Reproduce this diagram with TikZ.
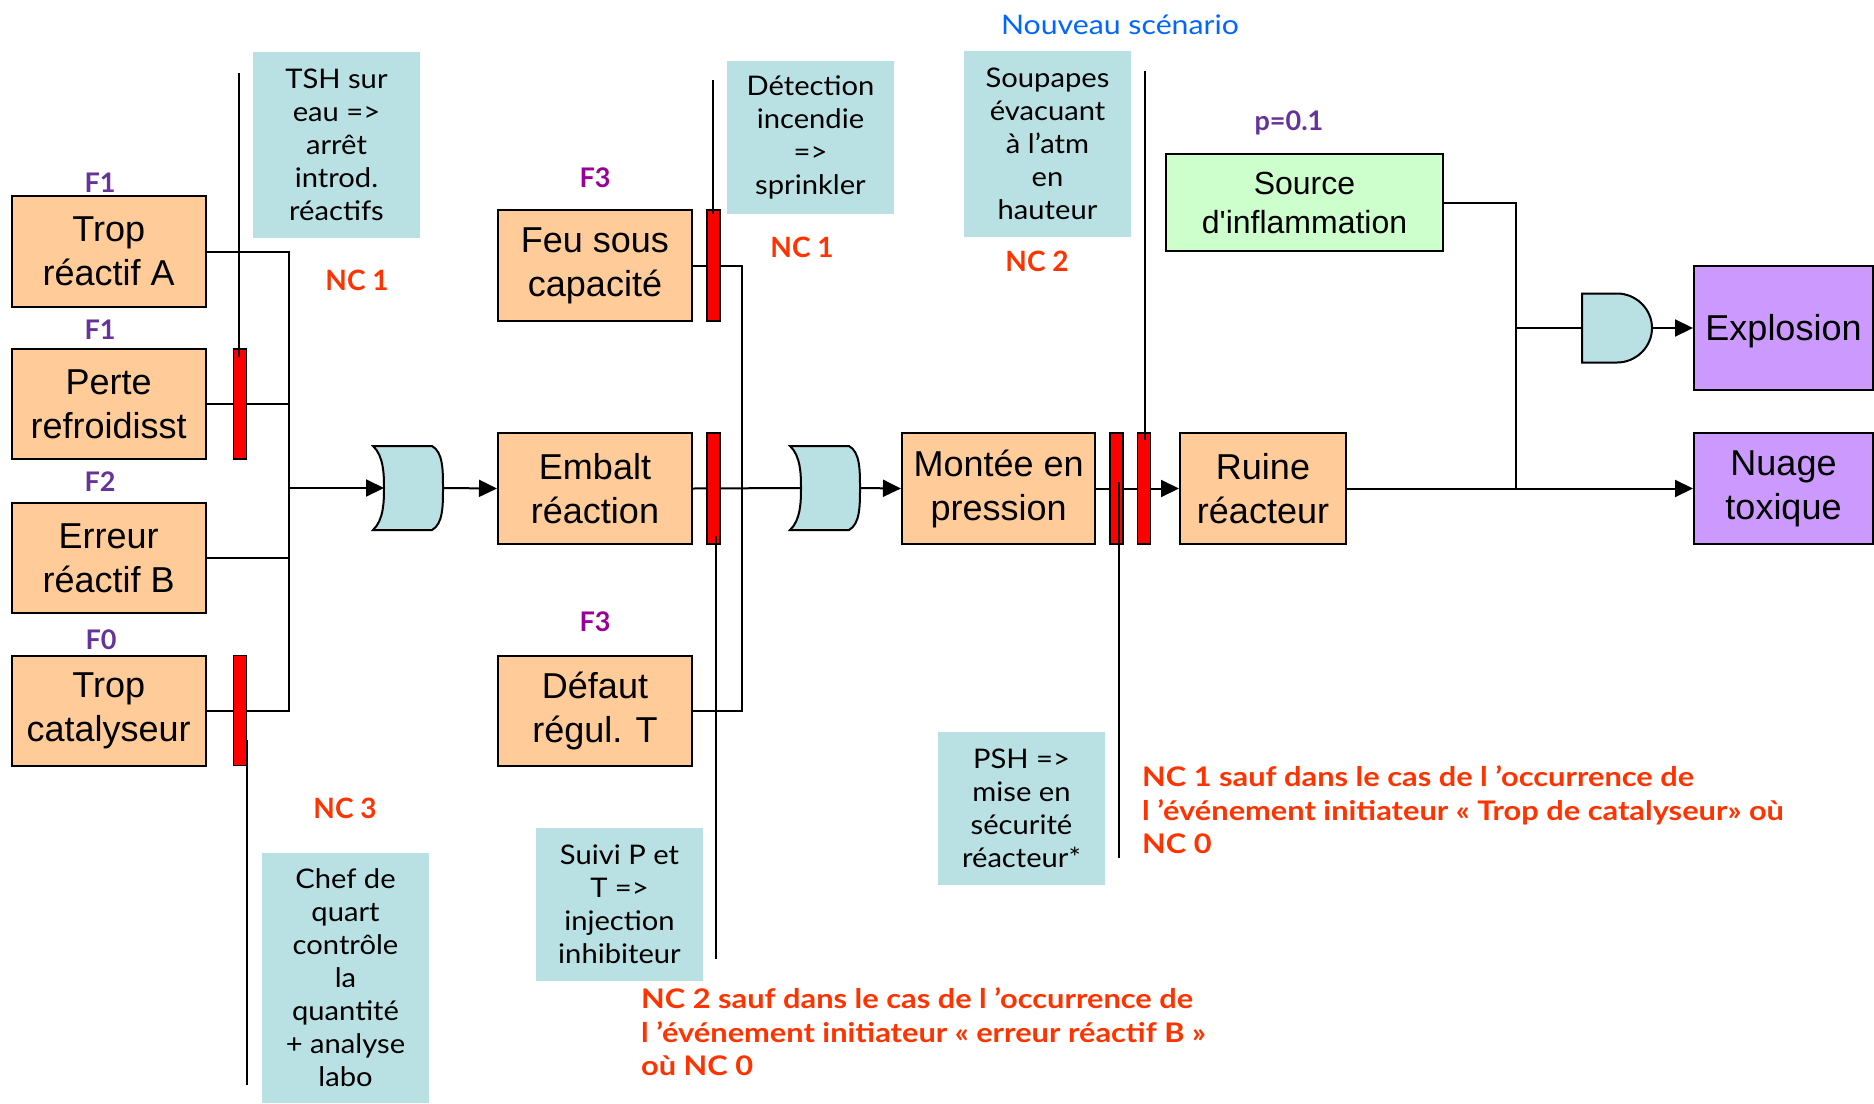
\documentclass[tikz,border=0pt]{standalone}
\usepackage{fontspec}
\setmainfont{Liberation Sans}
\newfontfamily\hfont{Lato}
\newfontfamily\hfontc{Lato}[FakeStretch=1.08]
\newfontfamily\hfontn{Lato}[FakeStretch=1.12]
\newfontfamily\hfontw{Lato}[FakeStretch=1.14]
\usetikzlibrary{arrows.meta}
\definecolor{boxor}{HTML}{FFCC99}
\definecolor{callblue}{HTML}{B9E0E3}
\definecolor{boxgreen}{HTML}{CCFFCC}
\definecolor{boxpurple}{HTML}{CC99FF}
\definecolor{ncred}{HTML}{FF3300}
\definecolor{fpurple}{HTML}{663399}
\definecolor{fmagenta}{HTML}{990099}
\definecolor{newblue}{HTML}{0066FF}
\newcommand{\lowtxt}[1]{\raisebox{-3pt}[\height][\depth]{#1}}
\begin{document}
\begin{tikzpicture}[x=1pt,y=-1pt,
  evt/.style={draw=black, line width=2pt, fill=boxor, inner sep=0pt, align=center, font=\fontsize{36}{44}\selectfont},
  ctext/.style={fill=callblue, inner sep=0pt, align=center, minimum width=167pt, font=\hfontc\fontsize{27}{33}\selectfont},
  barre/.style={draw=black, line width=1.5pt, fill=red, minimum width=13pt, minimum height=110pt, inner sep=0pt},
  lnk/.style={line width=2pt},
  arr/.style={lnk, -{Triangle[length=18pt,width=17pt]}},
  gate/.style={draw=black, line width=2pt, fill=callblue},
  flab/.style={font=\hfont\bfseries\fontsize{27}{30}\selectfont, text=fpurple},
  nclab/.style={font=\hfont\bfseries\fontsize{28}{30}\selectfont, text=ncred},
  ncnote/.style={font=\hfontw\bfseries\fontsize{27}{33.5}\selectfont, text=ncred, align=left, inner sep=0pt}
]
\useasboundingbox (0,0) rectangle (1874,1103);

% event boxes
\node[evt, minimum width=194pt, minimum height=111pt] (tA) at (108.7,251.5) {Trop\\réactif A};
\node[evt, minimum width=194pt, minimum height=110pt] (perte) at (108.7,404) {Perte\\refroidisst};
\node[evt, minimum width=194pt, minimum height=110pt] (erreur) at (108.7,558) {Erreur\\réactif B};
\node[evt, minimum width=194pt, minimum height=110pt] (cat) at (108.7,710.6) {Trop\\catalyseur};
\node[evt, minimum width=194pt, minimum height=111pt] (feu) at (595,265.5) {Feu sous\\capacité};
\node[evt, minimum width=194pt, minimum height=111pt] (embalt) at (595,488.5) {Embalt\\réaction};
\node[evt, minimum width=194pt, minimum height=110pt] (defaut) at (595,710.6) {Défaut\\régul. T};
\node[evt, minimum width=193.5pt, minimum height=111pt] (montee) at (998.7,488.5) {Montée en\\pression};
\node[evt, minimum width=166pt, minimum height=111pt] (ruine) at (1263,488.5) {Ruine\\réacteur};
\node[evt, fill=boxgreen, minimum width=277pt, minimum height=97pt, font=\fontsize{32}{39}\selectfont] (source) at (1304.5,202.5) {Source\\d\textquotesingle inflammation};
\node[evt, fill=boxpurple, minimum width=179pt, minimum height=124pt] (explosion) at (1783.5,328) {\lowtxt{Explosion}};
\node[evt, fill=boxpurple, minimum width=179pt, minimum height=111pt] (nuage) at (1783.5,488.5) {Nuage\\toxique};

% junction / gate coordinates
\coordinate (j1) at (289,488);
\coordinate (j2) at (742,488);
\coordinate (j3) at (1516,488);
\coordinate (g1in) at (384,488);
\coordinate (g1out) at (443,488);
\coordinate (g2in) at (801,488);
\coordinate (g2out) at (860,488);
\coordinate (andin) at (1582,328);
\coordinate (andout) at (1652,328);

% gates
\draw[gate] (373,446) -- (432,446) .. controls (443,452) and (443,470) .. (443,488)
  .. controls (443,506) and (443,524) .. (432,530) -- (373,530)
  .. controls (384,520) and (384,500) .. (384,488) .. controls (384,476) and (384,456) .. (373,446) -- cycle;
\draw[gate] (790,446) -- (849,446) .. controls (860,452) and (860,470) .. (860,488)
  .. controls (860,506) and (860,524) .. (849,530) -- (790,530)
  .. controls (801,520) and (801,500) .. (801,488) .. controls (801,476) and (801,456) .. (790,446) -- cycle;
\draw[gate] (1582,293.5) -- (1617,293.5) .. controls (1636,293.5) and (1652,309) .. (1652,328)
  .. controls (1652,347) and (1636,362.5) .. (1617,362.5) -- (1582,362.5) -- cycle;

% connectors
\draw[lnk] (tA.east) -| (j1 |- cat.east) -- (cat.east);
\draw[lnk] (perte.east) -- (perte.east -| j1);
\draw[lnk] (erreur.east) -- (erreur.east -| j1);
\draw[arr] (j1) -- (g1in);
\draw[arr] (g1out) -- (embalt.west);
\draw[lnk] (feu.east) -| (j2 |- defaut.east) -- (defaut.east);
\draw[lnk] (embalt.east) -- (g2in);
\draw[arr] (g2out) -- (montee.west);
\draw[arr] (montee.east) -- (ruine.west);
\draw[arr] (ruine.east) -- (nuage.west);
\draw[lnk] (source.east) -| (j3);
\draw[lnk] (j3 |- andin) -- (andin);
\draw[arr] (andout) -- (explosion.west);

% red barriers
\node[barre] (b1) at (240,404) {};
\node[barre] (b2) at (240,710.6) {};
\node[barre, minimum height=111pt] (b3) at (713.5,265.5) {};
\node[barre, minimum height=111pt] (b4) at (713.5,488.5) {};
\node[barre, minimum height=111pt] (b5) at (1116.5,488.5) {};
\node[barre, minimum height=111pt] (b6) at (1144,488.5) {};

% barrier leader lines
\coordinate (l1a) at (239,73);   \coordinate (l1b) at (239,357);
\coordinate (l2a) at (247,740);  \coordinate (l2b) at (247,1085);
\coordinate (l3a) at (713,80);   \coordinate (l3b) at (713,214);
\coordinate (l4a) at (716,536);  \coordinate (l4b) at (716,959);
\coordinate (l5a) at (1119,482); \coordinate (l5b) at (1119,858);
\coordinate (l6a) at (1144.5,71);\coordinate (l6b) at (1144.5,440);
\draw[lnk] (l1a) -- (l1b);
\draw[lnk] (l2a) -- (l2b);
\draw[lnk] (l3a) -- (l3b);
\draw[lnk] (l4a) -- (l4b);
\draw[lnk] (l5a) -- (l5b);
\draw[lnk] (l6a) -- (l6b);

% callouts
\node[ctext, minimum height=186pt] (tsh) at (336.5,145) {TSH sur\\eau =>\\arrêt\\introd.\\réactifs};
\node[ctext, minimum height=153pt] (det) at (810.5,137.5) {Détection\\incendie\\=>\\sprinkler};
\node[ctext, minimum height=186pt] (soup) at (1047.5,144) {Soupapes\\évacuant\\à l’atm\\en\\hauteur};
\node[ctext, minimum height=153pt] (psh) at (1021.5,808.5) {PSH =>\\mise en\\sécurité\\réacteur*};
\node[ctext, minimum height=153pt] (suivi) at (619.5,904.5) {Suivi P et\\T =>\\injection\\inhibiteur};
\node[ctext, minimum height=250pt] (chef) at (345.5,978) {Chef de\\quart\\contrôle\\la\\quantité\\+ analyse\\labo};

% frequency labels
\node[flab] (f1a) at (100,183) {F1};
\node[flab] (f1b) at (100,330) {F1};
\node[flab] (f2) at (100,482) {F2};
\node[flab] (f0) at (101,640) {F0};
\node[flab, text=fmagenta] (f3a) at (595,177.5) {F3};
\node[flab, text=fmagenta] (f3b) at (595,621.5) {F3};
\node[flab] (prob) at (1289,123) {p=0.1};

% NC labels
\node[nclab] (nc1a) at (357,280) {NC 1};
\node[nclab] (nc1b) at (802,247) {NC 1};
\node[nclab] (nc2) at (1037,261) {NC 2};
\node[nclab] (nc3) at (345,808) {NC 3};
\node[font=\hfontn\fontsize{27}{30}\selectfont, text=newblue] (nouv) at (1120,25) {Nouveau scénario};

\node[ncnote, anchor=west] (note1) at (1142,810) {NC 1 sauf dans le cas de l ’occurrence de\\l ’événement initiateur « Trop de catalyseur» où\\NC 0};
\node[ncnote, anchor=west] (note2) at (641,1032) {NC 2 sauf dans le cas de l ’occurrence de\\l ’événement initiateur « erreur réactif B »\\où NC 0};
\end{tikzpicture}
\end{document}
